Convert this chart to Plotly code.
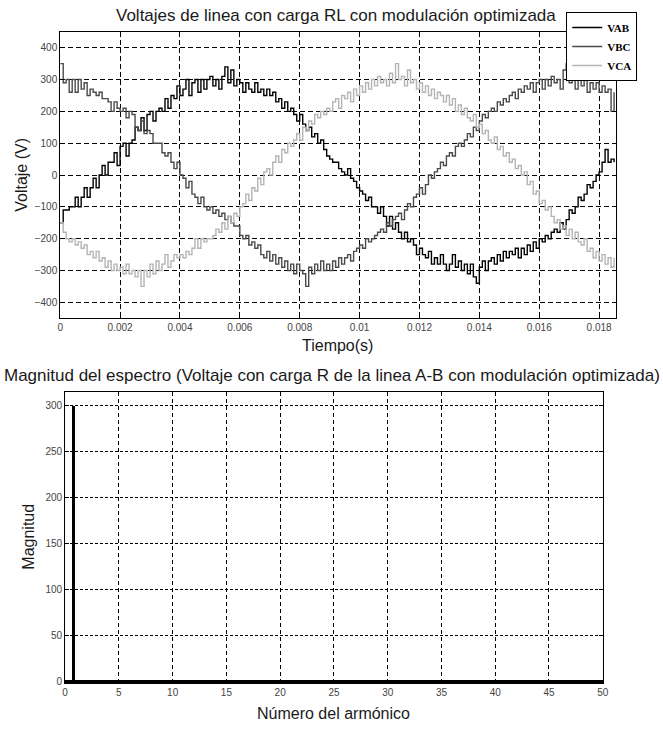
import plotly.graph_objects as go

# ---------------- data ----------------
t_step = 0.0001  # sampling step of the read-off values (s)

vab = [-150, -110, -110, -100, -100, -70, -100, -70, -40, -70,
       -40, -10, -40, 0, 30, 0, 40, 40, 70, 30,
       90, 100, 60, 100, 110, 150, 140, 180, 140, 190,
       200, 170, 200, 210, 200, 240, 210, 250, 240, 280,
       250, 270, 300, 250, 290, 300, 260, 300, 270, 300,
       310, 280, 300, 270, 310, 340, 290, 330, 280, 300,
       290, 260, 290, 270, 260, 290, 260, 270, 250, 270,
       250, 260, 230, 240, 210, 230, 200, 210, 190, 170,
       190, 160, 140, 150, 120, 130, 100, 110, 80, 60,
       50, 40, 40, 20, 10, 0, 20, -10, -20, -40,
       -50, -60, -80, -70, -100, -100, -120, -100, -130, -160,
       -130, -170, -150, -180, -200, -180, -210, -200, -220, -250,
       -230, -250, -260, -240, -280, -260, -280, -250, -280, -300,
       -280, -250, -290, -270, -300, -280, -310, -280, -320, -340,
       -290, -270, -300, -270, -260, -280, -250, -270, -240, -260,
       -240, -250, -230, -260, -230, -250, -220, -240, -210, -230,
       -200, -210, -190, -200, -180, -170, -180, -150, -170, -140,
       -110, -120, -100, -70, -80, -60, -30, -40, -20, 0,
       10, 40, 80, 40, 50, 40]

vbc = [350, 290, 300, 260, 300, 260, 300, 270, 290, 250,
       270, 260, 250, 260, 240, 240, 230, 200, 230, 210,
       200, 210, 180, 200, 190, 150, 140, 170, 130, 140,
       130, 100, 100, 100, 70, 60, 70, 40, 20, 40,
       0, -10, -40, -20, -60, -70, -90, -70, -100, -110,
       -100, -120, -110, -130, -120, -140, -130, -150, -160, -160,
       -190, -200, -190, -220, -210, -230, -220, -250, -260, -240,
       -270, -250, -280, -260, -290, -270, -300, -280, -310, -280,
       -300, -310, -350, -290, -310, -280, -300, -270, -300, -280,
       -300, -270, -290, -260, -280, -260, -250, -270, -240, -230,
       -220, -230, -200, -210, -200, -190, -180, -170, -180, -150,
       -160, -140, -130, -120, -140, -110, -90, -100, -70, -60,
       -40, -60, -30, 0, -10, 10, 20, 40, 30, 60,
       70, 60, 90, 100, 90, 110, 130, 120, 150, 140,
       170, 190, 180, 200, 210, 200, 230, 220, 240, 230,
       250, 260, 240, 270, 260, 280, 270, 290, 260, 290,
       300, 270, 300, 280, 310, 290, 300, 270, 330, 350,
       290, 310, 270, 300, 280, 300, 260, 290, 270, 290,
       260, 280, 260, 270, 200, 260]

vca = [-150, -180, -200, -210, -200, -220, -210, -230, -220, -250,
       -240, -260, -240, -270, -260, -290, -270, -300, -280, -300,
       -290, -310, -280, -310, -300, -320, -300, -350, -300, -320,
       -280, -310, -270, -300, -280, -250, -290, -270, -250, -260,
       -250, -260, -240, -250, -230, -200, -230, -200, -210, -200,
       -200, -190, -170, -180, -150, -170, -130, -150, -120, -130,
       -100, -90, -60, -80, -40, -50, -10, -30, 10, 20,
       0, 40, 60, 40, 80, 70, 100, 90, 110, 130,
       110, 150, 140, 170, 160, 190, 180, 200, 190, 210,
       200, 230, 240, 210, 250, 240, 260, 230, 270, 250,
       280, 260, 290, 270, 300, 280, 310, 290, 300, 280,
       320, 290, 350, 300, 310, 280, 330, 290, 300, 270,
       290, 260, 280, 250, 270, 240, 260, 250, 230, 250,
       220, 240, 200, 220, 190, 210, 180, 170, 190, 150,
       160, 130, 140, 110, 100, 120, 80, 90, 60, 70,
       40, 50, 20, 30, 0, 10, -30, -20, -60, -50,
       -90, -80, -110, -100, -130, -150, -140, -170, -160, -190,
       -170, -200, -180, -210, -220, -200, -240, -230, -260, -240,
       -270, -250, -280, -260, -290, -260]

time_s = [round(i * t_step, 5) for i in range(len(vab))]

series_names = ["VAB", "VBC", "VCA"]
series_values = [vab, vbc, vca]

harmonic_pos = [0.8]        # position of the fundamental bar as drawn
harmonic_mag = [300]

x_ticks_top = [0, 0.002, 0.004, 0.006, 0.008, 0.01, 0.012, 0.014, 0.016, 0.018]
y_ticks_top = [-400, -300, -200, -100, 0, 100, 200, 300, 400]
x_ticks_bot = [0, 5, 10, 15, 20, 25, 30, 35, 40, 45, 50]
y_ticks_bot = [0, 50, 100, 150, 200, 250, 300]

# ---------------- styling ----------------
W, H = 663, 729
def px(x):
    return x / W
def py(y):
    return 1 - y / H

colors = ["#000000", "#4a4a4a", "#b4b4b4"]
sans = "Liberation Sans, Arial, sans-serif"
narrow = "Liberation Sans Narrow, Arial Narrow, Liberation Sans, sans-serif"
tickfont = dict(family=sans, size=10, color="#444444")

fig = go.Figure()
for name, vals, col in zip(series_names, series_values, colors):
    fig.add_trace(go.Scatter(x=time_s, y=vals, name=name, mode="lines",
                             line=dict(color=col, width=1.4, shape="hv"),
                             xaxis="x", yaxis="y"))

fig.add_trace(go.Bar(x=harmonic_pos, y=harmonic_mag, width=0.35,
                     marker=dict(color="black", line=dict(width=0)),
                     showlegend=False, xaxis="x2", yaxis="y2"))

axis_common = dict(showline=True, linecolor="black", linewidth=1, mirror="ticks",
                   ticks="inside", ticklen=4, tickcolor="black",
                   zeroline=False, showgrid=True, gridcolor="black", gridwidth=1,
                   tickfont=tickfont)

fig.update_layout(
    width=W, height=H,
    margin=dict(l=0, r=0, t=0, b=0),
    paper_bgcolor="white", plot_bgcolor="white",
    showlegend=True,
    legend=dict(x=px(571), y=py(12), xanchor="left", yanchor="top",
                bgcolor="white", bordercolor="black", borderwidth=1,
                font=dict(family="Liberation Serif, Times New Roman, serif", size=11,
                          color="black", weight="bold"),
                itemwidth=30, tracegroupgap=0),
    xaxis=dict(domain=[px(58), px(621)], range=[0, 0.01855], anchor="y",
               tickvals=x_ticks_top, ticktext=[str(v) for v in x_ticks_top],
               griddash="5px,3px", **axis_common),
    yaxis=dict(domain=[py(320), py(32)], range=[-450, 450], anchor="x",
               tickvals=y_ticks_top, griddash="5px,3px", **axis_common),
    xaxis2=dict(domain=[px(63), px(608)], range=[0, 50], anchor="y2",
                tickvals=x_ticks_bot, griddash="4px,3px", **axis_common),
    yaxis2=dict(domain=[py(687), py(394)], range=[-2, 315], anchor="x2",
                tickvals=y_ticks_bot, griddash="3px,2px", **axis_common),
    bargap=0,
)
fig.update_yaxes(selector=dict(anchor="x2"), zeroline=True, zerolinecolor="black", zerolinewidth=3)

ann_font = dict(family=sans, size=16, color="#1a1a1a")
annotations = [
    dict(text="Voltajes de linea con carga RL con modulación optimizada", x=px(338), y=py(16),
         font=dict(family=sans, size=17, color="#1a1a1a")),
    dict(text="Tiempo(s)", x=px(339), y=py(347)),
    dict(text="Voltaje (V)", x=px(18), y=py(176), textangle=-90),
    dict(text="Magnitud del espectro (Voltaje con carga R de la linea A-B con modulación optimizada)",
         x=px(334), y=py(378), font=dict(family=narrow, size=17, color="#1a1a1a")),
    dict(text="Magnitud", x=px(25), y=py(540), textangle=-90),
    dict(text="Número del armónico", x=px(335), y=py(717)),
]
for a in annotations:
    a.setdefault("font", ann_font)
    fig.add_annotation(xref="paper", yref="paper", showarrow=False,
                       xanchor="center", yanchor="middle", **a)

fig.write_html("out.html")
